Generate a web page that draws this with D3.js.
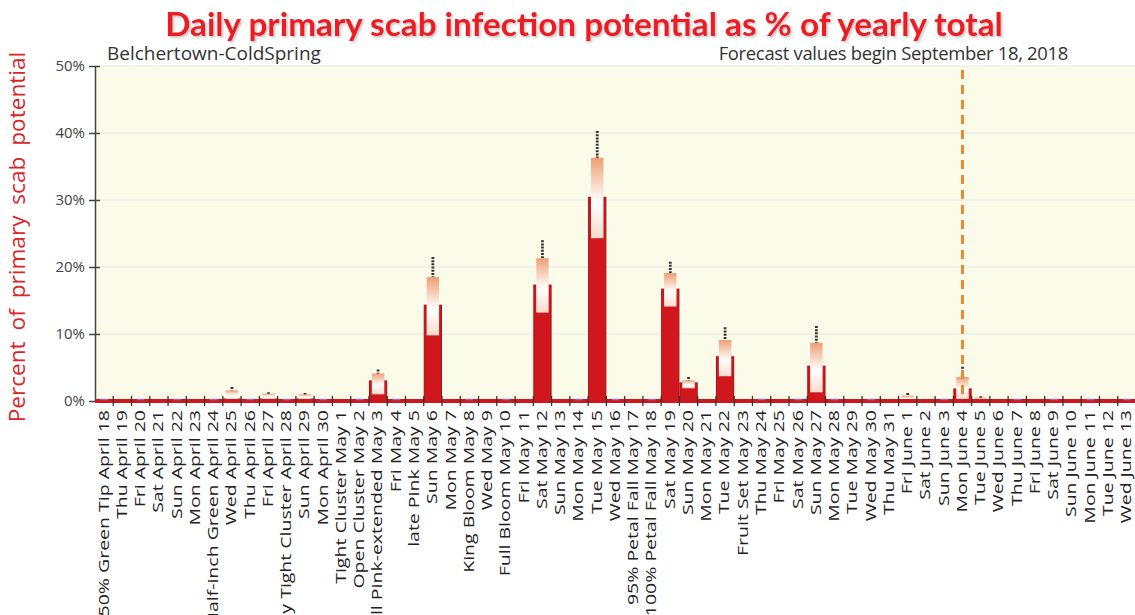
<!DOCTYPE html>
<html>
<head>
<meta charset="utf-8">
<script src="https://cdn.jsdelivr.net/npm/d3@7"></script>
<style>
  html, body { margin: 0; padding: 0; background: #ffffff; }
  svg { display: block; }
</style>
</head>
<body>
<svg id="chart" width="1135" height="615"></svg>
<script>
// ---------- DATA ----------
const stages = ["50% Green Tip","Thu","Fri","Sat","Sun","Mon","Half-inch Green","Wed","Thu","Fri",
  "Early Tight Cluster","Sun","Mon","Tight Cluster","Open Cluster","Full Pink-extended","Fri","late Pink","Sun","Mon",
  "King Bloom","Wed","Full Bloom","Fri","Sat","Sun","Mon","Tue","Wed","95% Petal Fall",
  "100% Petal Fall","Sat","Sun","Mon","Tue","Fruit Set","Thu","Fri","Sat","Sun",
  "Mon","Tue","Wed","Thu","Fri","Sat","Sun","Mon","Tue","Wed",
  "Thu","Fri","Sat","Sun","Mon","Tue","Wed"];
const dates = ["April 18","April 19","April 20","April 21","April 22","April 23","April 24","April 25","April 26","April 27",
  "April 28","April 29","April 30","May 1","May 2","May 3","May 4","May 5","May 6","May 7",
  "May 8","May 9","May 10","May 11","May 12","May 13","May 14","May 15","May 16","May 17",
  "May 18","May 19","May 20","May 21","May 22","May 23","May 24","May 25","May 26","May 27",
  "May 28","May 29","May 30","May 31","June 1","June 2","June 3","June 4","June 5","June 6",
  "June 7","June 8","June 9","June 10","June 11","June 12","June 13"];
// daily infection potential (% of yearly total)
const values = [0,0,0,0,0,0,0,0.3,0,0.3, 0,0.3,0,0,0,3.0,0,0,14.3,0,
  0,0,0,0,17.3,0,0,30.4,0,0, 0,16.7,2.7,0,6.6,0,0,0,0,5.2,
  0,0,0,0,0.2,0,0,1.8,0.1,0, 0,0,0,0,0,0,0];
// range box (upper / lower)
const boxHigh = [0,0,0,0,0,0,0,1.6,0,1.1, 0,1.0,0,0,0,4.1,0,0,18.5,0,
  0,0,0,0,21.3,0,0,36.3,0,0, 0,19.1,3.1,0,9.1,0,0,0,0,8.7,
  0,0,0,0,0.8,0,0,3.6,0.5,0, 0,0,0,0,0,0,0];
const boxLow = [0,0,0,0,0,0,0,0.2,0,0.3, 0,0.3,0,0,0,1.0,0,0,9.8,0,
  0,0,0,0,13.2,0,0,24.3,0,0, 0,14.1,1.9,0,3.7,0,0,0,0,1.3,
  0,0,0,0,0,0,0,0.3,0,0, 0,0,0,0,0,0,0];
// whiskers (upper / lower)
const whiskerHigh = [0,0,0,0,0,0,0,2.1,0,1.3, 0,1.2,0,0,0,4.7,0,0,21.5,0,
  0,0,0,0,24.0,0,0,40.3,0,0, 0,20.8,3.6,0,11.0,0,0,0,0,11.2,
  0,0,0,0,1.2,0,0,5.1,0.7,0, 0,0,0,0,0,0,0];
const whiskerLow = [0,0,0,0,0,0,0,0,0,0, 0,0,0,0,0,0.5,0,0,7.1,0,
  0,0,0,0,10.9,0,0,20.6,0,0, 0,12.4,1.5,0,2.1,0,0,0,0,0.4,
  0,0,0,0,0,0,0,0.2,0,0, 0,0,0,0,0,0,0];
const yTicks = [0,10,20,30,40,50];
const forecastStart = "June 4";

const titleText = "Daily primary scab infection potential as % of yearly total";
const yTitleText = "Percent of primary scab potential";
const siteText = "Belchertown-ColdSpring";
const forecastText = "Forecast values begin September 18, 2018";

// ---------- LAYOUT ----------
const svg = d3.select("#chart");
const pLeft = 95, pRight = 1136, pTop = 66, pBottom = 401;

const x = d3.scaleBand().domain(dates).range([pLeft, pRight]).paddingInner(0).paddingOuter(0);
const y = d3.scaleLinear().domain([0, 50]).range([pBottom, pTop]);
const bw = x.bandwidth();

function fit(sel, w) {
  const L = sel.node().getComputedTextLength();
  const fs = parseFloat(sel.attr("font-size"));
  sel.attr("font-size", fs * w / L);
}

// defs
const defs = svg.append("defs");
const grad = defs.append("linearGradient").attr("id", "boxGrad")
  .attr("x1", 0).attr("y1", 0).attr("x2", 0).attr("y2", 1);
grad.append("stop").attr("offset", "0%").attr("stop-color", "#ee9e74");
grad.append("stop").attr("offset", "55%").attr("stop-color", "#ffffff");
grad.append("stop").attr("offset", "100%").attr("stop-color", "#f9dccb");
const sh = defs.append("filter").attr("id", "shadow").attr("x", "-5%").attr("y", "-20%").attr("width", "110%").attr("height", "160%");
sh.append("feDropShadow").attr("dx", 1.5).attr("dy", 1.5).attr("stdDeviation", 1.2)
  .attr("flood-color", "#888").attr("flood-opacity", 0.55);

// plot background
svg.append("rect").attr("x", pLeft).attr("y", pTop).attr("width", pRight - pLeft).attr("height", pBottom - pTop)
  .attr("fill", "#fbfbea");

// gridlines
svg.append("g").selectAll("line").data(yTicks.filter(d => d > 0)).join("line")
  .attr("x1", pLeft).attr("x2", pRight).attr("y1", d => y(d)).attr("y2", d => y(d))
  .attr("stroke", "#e4e9e6").attr("stroke-width", 1);

// y axis
const yAxis = svg.append("g").attr("transform", `translate(${pLeft},0)`)
  .call(d3.axisLeft(y).tickValues(yTicks).tickFormat(d => d + "%").tickSizeInner(6).tickSizeOuter(0).tickPadding(4));
yAxis.select(".domain").attr("stroke", "#444").attr("stroke-width", 1.5);
yAxis.selectAll(".tick line").attr("stroke", "#444").attr("stroke-width", 1.5).attr("x1", 5);
yAxis.selectAll(".tick text").attr("font-family", "Open Sans").attr("font-size", 15).attr("fill", "#444");

// whiskers
const idx = d3.range(dates.length);
svg.append("g").selectAll("line").data(idx.filter(i => whiskerHigh[i] > 0)).join("line")
  .attr("x1", i => x(dates[i]) + bw / 2).attr("x2", i => x(dates[i]) + bw / 2)
  .attr("y1", i => y(whiskerHigh[i])).attr("y2", i => y(whiskerLow[i]))
  .attr("stroke", "#333").attr("stroke-width", 2.8).attr("stroke-dasharray", "2,1.2");

// bars
svg.append("g").selectAll("rect").data(idx.filter(i => values[i] > 0)).join("rect")
  .attr("x", i => x(dates[i]) + 0.5).attr("width", bw - 1)
  .attr("y", i => y(values[i])).attr("height", i => y(0) - y(values[i]))
  .attr("fill", "#d1171e").attr("stroke", "#a80f14").attr("stroke-width", 1);

// range boxes
const boxW = bw * 0.68;
svg.append("g").selectAll("rect").data(idx.filter(i => boxHigh[i] > 0)).join("rect")
  .attr("x", i => x(dates[i]) + (bw - boxW) / 2).attr("width", boxW)
  .attr("y", i => y(boxHigh[i])).attr("height", i => y(boxLow[i]) - y(boxHigh[i]))
  .attr("fill", "url(#boxGrad)");

// zero baseline (red) and small markers for zero days
svg.append("line").attr("x1", pLeft).attr("x2", pRight).attr("y1", y(0)).attr("y2", y(0))
  .attr("stroke", "#d1171e").attr("stroke-width", 4);
svg.append("g").selectAll("line").data(idx.filter(i => values[i] === 0 && i % 2 === 0)).join("line")
  .attr("x1", i => x(dates[i]) + bw * 0.3).attr("x2", i => x(dates[i]) + bw * 0.7)
  .attr("y1", y(0) - 1.5).attr("y2", y(0) - 1.5)
  .attr("stroke", "#8f73c4").attr("stroke-width", 1.5);

// x ticks at band boundaries
const bounds = dates.map(d => x(d)).concat([pRight]);
svg.append("g").selectAll("line").data(bounds.slice(1)).join("line")
  .attr("x1", d => d).attr("x2", d => d).attr("y1", y(0) - 5).attr("y2", y(0) + 5)
  .attr("stroke", "#333").attr("stroke-width", 1.3);

// forecast dashed line
const fx = x(forecastStart) + bw / 2;
svg.append("line").attr("x1", fx).attr("x2", fx).attr("y1", pTop + 4).attr("y2", y(0) - 2)
  .attr("stroke", "#ee8a2e").attr("stroke-width", 3).attr("stroke-dasharray", "9,6");

// x labels (source image is vertically stretched, so labels are elongated)
svg.append("g").selectAll("text").data(idx).join("text")
  .attr("transform", i => `translate(${x(dates[i]) + bw / 2 - 1},${y(0) + 9}) scale(1,1.3) rotate(-90)`)
  .attr("text-anchor", "end").attr("dy", "0.36em")
  .attr("font-family", "Open Sans").attr("font-size", 15).attr("fill", "#222")
  .text(i => stages[i] + " " + dates[i]);

// titles
const title = svg.append("text").attr("x", 584).attr("y", 36).attr("text-anchor", "middle")
  .attr("font-family", "Lato").attr("font-weight", "bold").attr("font-size", 26)
  .attr("fill", "#ec1c24").attr("filter", "url(#shadow)").text(titleText);
fit(title, 838);

const yt = svg.append("text").attr("transform", "translate(25,237) rotate(-90)").attr("text-anchor", "middle")
  .attr("font-family", "Open Sans").attr("font-size", 18).attr("fill", "#d9262b")
  .attr("word-spacing", 5).text(yTitleText);
fit(yt, 376);

const site = svg.append("text").attr("x", 107).attr("y", 60)
  .attr("font-family", "Open Sans").attr("font-size", 15).attr("fill", "#333").text(siteText);
fit(site, 214);

const fc = svg.append("text").attr("x", 1068).attr("y", 60).attr("text-anchor", "end")
  .attr("font-family", "Open Sans").attr("font-size", 14).attr("fill", "#333")
  .attr("letter-spacing", -0.3).text(forecastText);
fit(fc, 346);
</script>
</body>
</html>
